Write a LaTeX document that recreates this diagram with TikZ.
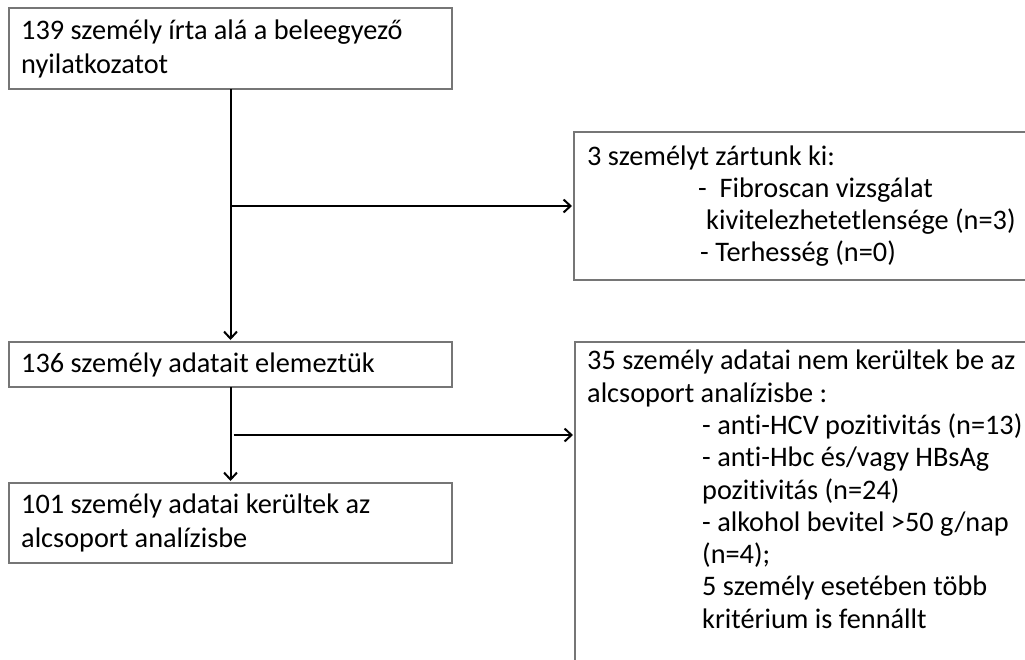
\documentclass[tikz,border=0pt]{standalone}
\usepackage{fontspec}
\setmainfont{Carlito}[Ligatures={NoCommon}]
\usetikzlibrary{arrows.meta}
\definecolor{boxgray}{RGB}{118,118,118}
\tikzset{
  box/.style={draw=boxgray, line width=1.2pt, rectangle, anchor=north west, inner sep=0pt, outer sep=0pt},
  txt/.style={anchor=north west, inner sep=0pt, align=left, font=\fontsize{28.3}{34}\selectfont},
  conn/.style={draw=black, line width=2pt},
  arr/.style={conn, -{Straight Barb[length=7pt,width=13pt,line width=2pt]}, shorten >=2pt}
}
\begin{document}
\begin{tikzpicture}[x=1pt,y=1pt]
\useasboundingbox (0,0) rectangle (1025,-659);
% boxes
\node[box, minimum width=443pt, minimum height=81pt] (b1) at (9,-8) {};
\node[box, minimum width=480pt, minimum height=148pt] (b2) at (574,-132) {};
\node[box, minimum width=443pt, minimum height=45pt] (b3) at (9,-342) {};
\node[box, minimum width=443pt, minimum height=80pt] (b4) at (9,-483) {};
\node[box, minimum width=480pt, minimum height=360pt] (b5) at (575,-342) {};
% texts
\node[txt, anchor=west] (t1) at ([xshift=12pt]b1.west) {139 személy írta alá a beleegyező\\nyilatkozatot};
\node[txt, anchor=west, font=\fontsize{28.3}{32}\selectfont] (t2) at ([xshift=13pt]b2.west) {3 személyt zártunk ki:\\
\hspace*{111pt}-\ \ Fibroscan vizsgálat\\
\hspace*{119pt}kivitelezhetetlensége (n=3)\\
\hspace*{113pt}- Terhesség (n=0)};
\node[txt, anchor=west] (t3) at ([xshift=12pt]b3.west) {136 személy adatait elemeztük};
\node[txt, anchor=west] (t4) at ([xshift=12pt]b4.west) {101 személy adatai kerültek az\\alcsoport analízisbe};
\node[txt, anchor=north west, font=\fontsize{28.3}{32.3}\selectfont] (t5) at ([xshift=12pt,yshift=-8pt]b5.north west) {35 személy adatai nem kerültek be az\\
alcsoport analízisbe :\\
\hspace*{115pt}- anti-HCV pozitivitás (n=13)\\
\hspace*{115pt}- anti-Hbc és/vagy HBsAg\\
\hspace*{115pt}pozitivitás (n=24)\\
\hspace*{115pt}- alkohol bevitel >50 g/nap\\
\hspace*{115pt}(n=4);\\
\hspace*{115pt}5 személy esetében több\\
\hspace*{115pt}kritérium is fennállt};
% connectors
\draw[arr] (b1.south) -- (b3.north);
\coordinate (j1) at (b1.south |- b2.west);
\draw[arr] (j1) -- (b2.west);
\draw[arr] (b3.south) -- (b4.north);
\coordinate (j2) at ([xshift=3pt]b3.south |- 0,-435);
\draw[arr] (j2) -- (j2 -| b5.west);
\end{tikzpicture}
\end{document}
